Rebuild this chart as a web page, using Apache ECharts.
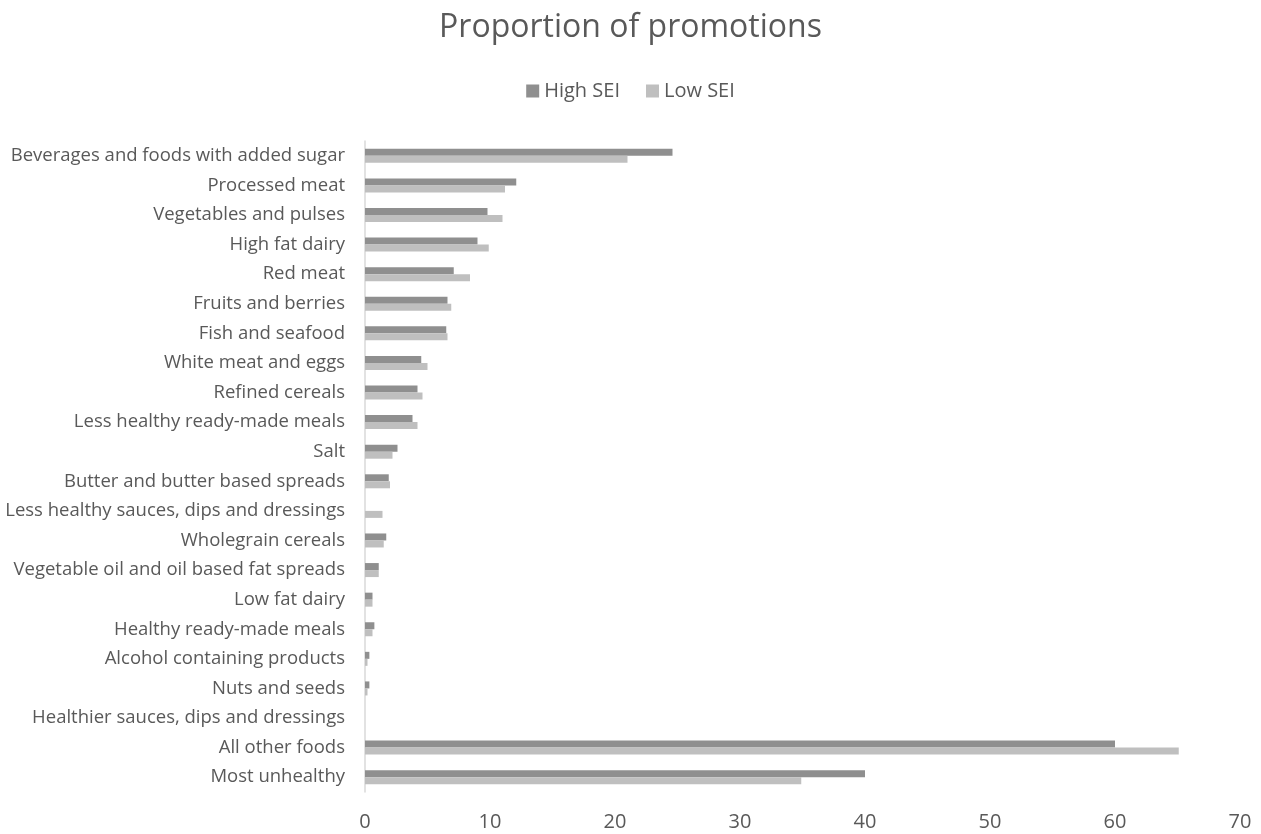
<!DOCTYPE html>
<html>
<head>
<meta charset="utf-8">
<script src="https://cdn.jsdelivr.net/npm/echarts@6/dist/echarts.min.js"></script>
<style>
  html, body { margin: 0; padding: 0; background: #fff; }
  #chart { width: 1261px; height: 834px; }
</style>
</head>
<body>
<div id="chart"></div>
<script>
// categories, top to bottom
var categories = [
  'Beverages and foods with added sugar',
  'Processed meat',
  'Vegetables and pulses',
  'High fat dairy',
  'Red meat',
  'Fruits and berries',
  'Fish and seafood',
  'White meat and eggs',
  'Refined cereals',
  'Less healthy ready-made meals',
  'Salt',
  'Butter and butter based spreads',
  'Less healthy sauces, dips and dressings',
  'Wholegrain cereals',
  'Vegetable oil and oil based fat spreads',
  'Low fat dairy',
  'Healthy ready-made meals',
  'Alcohol containing products',
  'Nuts and seeds',
  'Healthier sauces, dips and dressings',
  'All other foods',
  'Most unhealthy'
];
var highSEI = [24.6, 12.1, 9.8, 9.0, 7.1, 6.6, 6.5, 4.5, 4.2, 3.8, 2.6, 1.9, 0, 1.7, 1.1, 0.6, 0.75, 0.35, 0.35, 0, 60, 40];
var lowSEI  = [21.0, 11.2, 11.0, 9.9, 8.4, 6.9, 6.6, 5.0, 4.6, 4.2, 2.2, 2.0, 1.4, 1.5, 1.1, 0.6, 0.6, 0.2, 0.2, 0, 65.1, 34.9];
var xTicks = { min: 0, max: 70, interval: 10 };

var font = '"Open Sans", "Noto Sans", sans-serif';
var chart = echarts.init(document.getElementById('chart'));
var option = {
  backgroundColor: '#fff',
  animation: false,
  title: {
    text: 'Proportion of promotions',
    left: 'center',
    top: 7,
    textStyle: { fontFamily: font, fontSize: 32, fontWeight: 'normal', color: '#595959' }
  },
  legend: {
    top: 76,
    left: 'center',
    itemWidth: 13,
    itemHeight: 13,
    itemGap: 26,
    icon: 'rect',
    textStyle: { fontFamily: font, fontSize: 20, color: '#595959' },
    data: ['High SEI', 'Low SEI']
  },
  grid: { left: 365, right: 21, top: 141, bottom: 42, containLabel: false },
  xAxis: {
    type: 'value',
    min: xTicks.min,
    max: xTicks.max,
    interval: xTicks.interval,
    splitLine: { show: false },
    axisLine: { show: false },
    axisTick: { show: false },
    axisLabel: { fontFamily: font, fontSize: 20, color: '#595959', margin: 20 }
  },
  yAxis: {
    type: 'category',
    inverse: true,
    data: categories,
    axisLine: { show: true, lineStyle: { color: '#d9d9d9', width: 1.5 } },
    axisTick: { show: false },
    axisLabel: { fontFamily: font, fontSize: 18.5, color: '#595959', margin: 20 }
  },
  series: [
    {
      name: 'High SEI',
      type: 'bar',
      data: highSEI,
      barWidth: 7,
      barGap: '0%',
      itemStyle: { color: '#8f8f8f' }
    },
    {
      name: 'Low SEI',
      type: 'bar',
      data: lowSEI,
      barWidth: 7,
      barGap: '0%',
      itemStyle: { color: '#bfbfbf' }
    }
  ]
};
chart.setOption(option);
</script>
</body>
</html>
